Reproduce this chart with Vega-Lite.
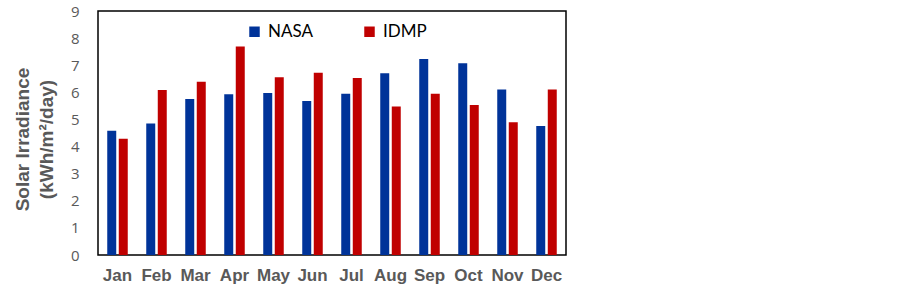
{
  "$schema": "https://vega.github.io/schema/vega-lite/v6.json",
  "width": 468,
  "height": 244,
  "autosize": {"type": "none"},
  "padding": {"left": 98, "top": 11, "right": 337, "bottom": 35},
  "background": "white",
  "data": {
    "values": [
      {"month": "Jan", "series": "NASA", "value": 4.58},
      {"month": "Jan", "series": "IDMP", "value": 4.29},
      {"month": "Feb", "series": "NASA", "value": 4.85},
      {"month": "Feb", "series": "IDMP", "value": 6.09},
      {"month": "Mar", "series": "NASA", "value": 5.75},
      {"month": "Mar", "series": "IDMP", "value": 6.39},
      {"month": "Apr", "series": "NASA", "value": 5.93},
      {"month": "Apr", "series": "IDMP", "value": 7.69},
      {"month": "May", "series": "NASA", "value": 5.98},
      {"month": "May", "series": "IDMP", "value": 6.56},
      {"month": "Jun", "series": "NASA", "value": 5.68},
      {"month": "Jun", "series": "IDMP", "value": 6.72},
      {"month": "Jul", "series": "NASA", "value": 5.95},
      {"month": "Jul", "series": "IDMP", "value": 6.53},
      {"month": "Aug", "series": "NASA", "value": 6.70},
      {"month": "Aug", "series": "IDMP", "value": 5.48},
      {"month": "Sep", "series": "NASA", "value": 7.23},
      {"month": "Sep", "series": "IDMP", "value": 5.95},
      {"month": "Oct", "series": "NASA", "value": 7.07},
      {"month": "Oct", "series": "IDMP", "value": 5.53},
      {"month": "Nov", "series": "NASA", "value": 6.10},
      {"month": "Nov", "series": "IDMP", "value": 4.90},
      {"month": "Dec", "series": "NASA", "value": 4.76},
      {"month": "Dec", "series": "IDMP", "value": 6.10}
    ]
  },
  "mark": {"type": "bar"},
  "encoding": {
    "x": {
      "field": "month",
      "type": "nominal",
      "sort": ["Jan","Feb","Mar","Apr","May","Jun","Jul","Aug","Sep","Oct","Nov","Dec"],
      "scale": {"paddingInner": 0.474, "paddingOuter": 0.237},
      "axis": {
        "title": null,
        "labelAngle": 0,
        "labelFont": "Liberation Sans",
        "labelFontWeight": "bold",
        "labelFontSize": 17,
        "labelColor": "#595959",
        "labelPadding": 12,
        "tickSize": 0,
        "domain": false
      }
    },
    "xOffset": {
      "field": "series",
      "type": "nominal",
      "sort": ["NASA", "IDMP"],
      "scale": {"paddingInner": 0.22, "paddingOuter": 0}
    },
    "y": {
      "field": "value",
      "type": "quantitative",
      "scale": {"domain": [0, 9], "nice": false},
      "axis": {
        "title": ["Solar Irradiance", "(kWh/m²/day)"],
        "titleFont": "Liberation Sans",
        "titleFontWeight": "bold",
        "titleFontSize": 19,
        "titleColor": "#595959",
        "titleLineHeight": 24,
        "titlePadding": 14,
        "titleY": 128,
        "values": [0,1,2,3,4,5,6,7,8,9],
        "labelFont": "Open Sans",
        "labelFontSize": 15,
        "labelColor": "#595959",
        "labelPadding": 19,
        "tickSize": 0,
        "domain": false,
        "grid": false
      }
    },
    "color": {
      "field": "series",
      "type": "nominal",
      "scale": {"domain": ["NASA", "IDMP"], "range": ["#003399", "#C00000"]},
      "legend": {
        "title": null,
        "orient": "none",
        "legendX": 148,
        "legendY": 12,
        "direction": "horizontal",
        "symbolType": "square",
        "symbolSize": 110,
        "symbolOpacity": 1,
        "labelFont": "Lato",
        "labelFontSize": 17,
        "labelColor": "#000000",
        "labelOffset": 5,
        "columnPadding": 48
      }
    }
  },
  "config": {
    "view": {"stroke": "#000000", "strokeWidth": 1.5}
  }
}
